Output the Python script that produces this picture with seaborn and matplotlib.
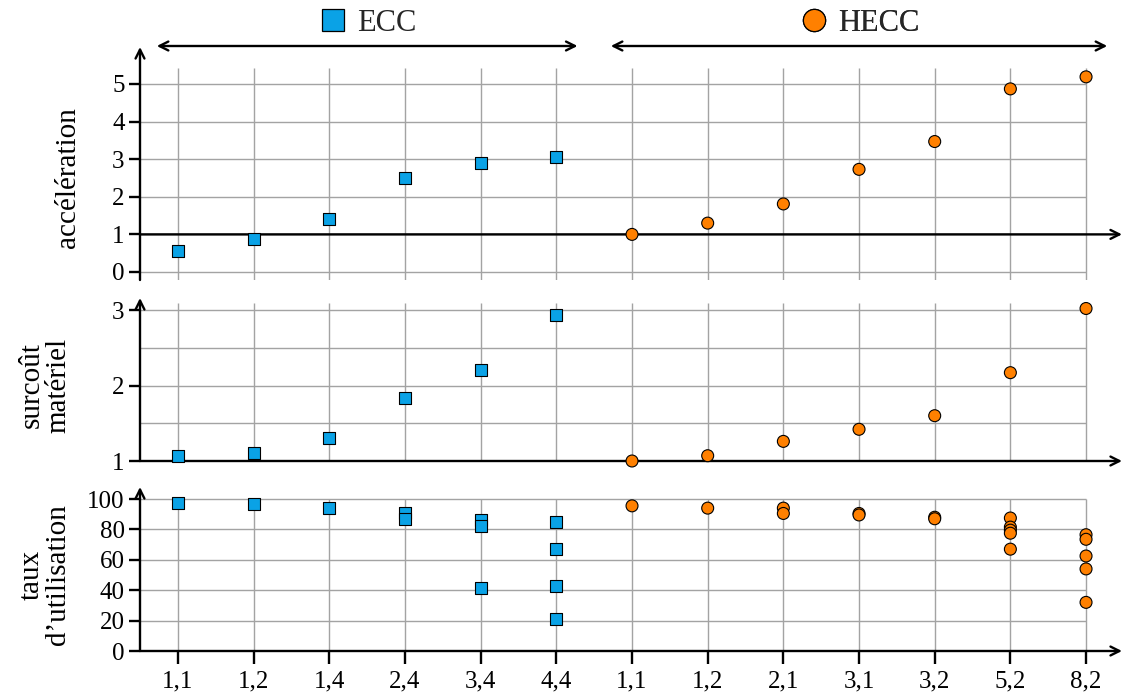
import numpy as np
import pandas as pd
import matplotlib
matplotlib.use("Agg")
import matplotlib.pyplot as plt
import matplotlib.transforms as mtransforms
from matplotlib.lines import Line2D
import seaborn as sns

# ---------------- data ----------------
ecc_configs = ["1,1", "1,2", "1,4", "2,4", "3,4", "4,4"]
hecc_configs = ["1,1", "1,2", "2,1", "3,1", "3,2", "5,2", "8,2"]

ecc_acceleration = [0.55, 0.87, 1.40, 2.51, 2.89, 3.06]
hecc_acceleration = [1.00, 1.30, 1.81, 2.73, 3.47, 4.87, 5.19]

ecc_surcout = [1.07, 1.11, 1.31, 1.83, 2.20, 2.94]
hecc_surcout = [1.00, 1.07, 1.26, 1.42, 1.60, 2.17, 3.02]

ecc_utilisation = [[97.5], [96.5], [94.0], [90.5, 87.0], [86.0, 82.5, 41.5],
                   [85.0, 67.0, 42.5, 21.0]]
hecc_utilisation = [[95.5], [94.0], [94.0, 90.5], [90.5, 89.5], [88.0, 87.0],
                    [87.5, 81.5, 79.5, 77.5, 67.0],
                    [76.5, 73.5, 62.5, 54.0, 32.0]]

acc_ticks = [0, 1, 2, 3, 4, 5]
sur_ticks = [1, 2, 3]
sur_minor = [1.5, 2.5]
uti_ticks = [0, 20, 40, 60, 80, 100]

families = ["ECC", "HECC"]
colors = {"ECC": "#0AA2E6", "HECC": "#FF8000"}
markers = {"ECC": "s", "HECC": "o"}

tick_labels = ecc_configs + hecc_configs
positions = list(range(len(tick_labels)))
n_ecc = len(ecc_configs)

rows = []
for i, v in enumerate(ecc_acceleration):
    rows.append(("acc", "ECC", i, v))
for j, v in enumerate(hecc_acceleration):
    rows.append(("acc", "HECC", n_ecc + j, v))
for i, v in enumerate(ecc_surcout):
    rows.append(("sur", "ECC", i, v))
for j, v in enumerate(hecc_surcout):
    rows.append(("sur", "HECC", n_ecc + j, v))
for i, vals in enumerate(ecc_utilisation):
    for v in vals:
        rows.append(("uti", "ECC", i, v))
for j, vals in enumerate(hecc_utilisation):
    for v in vals:
        rows.append(("uti", "HECC", n_ecc + j, v))
df = pd.DataFrame(rows, columns=["metric", "famille", "pos", "val"])

# ---------------- style ----------------
sns.set_theme(style="white")
plt.rcParams["font.family"] = ["Liberation Serif", "DejaVu Serif"]

W, H = 1125, 699
fig = plt.figure(figsize=(W / 100, H / 100), dpi=100)

def fx(px):
    return px / W

def fy(px):
    return 1 - px / H

left_px, right_px = 140, 1122
x0_px, dx_px = 178, 75.67
xlim = ((left_px - x0_px) / dx_px, (right_px - x0_px) / dx_px)

panels = [
    # metric, top px, bottom px, ylim, ticks, minor, axis-y, grid top, label
    ("acc", 47, 280, (-0.213, 5.984), acc_ticks, [], 1, 5.43, "accélération"),
    ("sur", 298, 461, (1.0, 3.159), sur_ticks, sur_minor, 1, 3.09, "surcoût\nmatériel"),
    ("uti", 487, 651, (0.0, 107.9), uti_ticks, [], 0, 100, "taux\nd\u2019utilisation"),
]

grid_col = "#a3a3a3"
fs_tick = 18
fs_lab = 21

axes = []
for metric, top, bot, ylim, ticks, minor, yaxis_at, gtop, label in panels:
    ax = fig.add_axes([fx(left_px), fy(bot), fx(right_px - left_px), (bot - top) / H])
    axes.append(ax)
    ax.set_xlim(*xlim)
    ax.set_ylim(*ylim)
    for s in ax.spines.values():
        s.set_visible(False)
    ax.set_facecolor("none")

    # grid
    ax.hlines(ticks + minor, xlim[0], positions[-1], colors=grid_col, lw=1.0, zorder=1)
    ax.vlines(positions, ylim[0], gtop, colors=grid_col, lw=1.0, zorder=1)

    # axes arrows
    arrow = dict(arrowstyle="->", lw=1.7, color="black", shrinkA=0, shrinkB=0,
                 mutation_scale=16)
    ax.annotate("", xy=(xlim[0], ylim[1]), xytext=(xlim[0], ylim[0]),
                arrowprops=arrow, annotation_clip=False, zorder=3)
    ax.annotate("", xy=(xlim[1], yaxis_at), xytext=(xlim[0], yaxis_at),
                arrowprops=arrow, annotation_clip=False, zorder=3)

    sub = df[df.metric == metric]
    sns.scatterplot(data=sub, x="pos", y="val", hue="famille", style="famille",
                    hue_order=families, style_order=families,
                    palette=colors, markers=markers, s=74, edgecolor="black",
                    linewidth=0.8, legend=False, ax=ax, zorder=5, clip_on=False)

    ax.set_yticks(ticks)
    ax.set_yticklabels([str(t) for t in ticks])
    ax.tick_params(axis="y", direction="out", length=8, width=1.7, color="black",
                   pad=3, labelsize=fs_tick, left=True, labelcolor="black")
    ax.set_xlabel("")
    ax.set_ylabel("")

    trans = mtransforms.blended_transform_factory(fig.transFigure, ax.transData)
    mid = (ticks[0] + ticks[-1]) / 2
    xl = fx(68) if "\n" not in label else fx(45)
    ax.text(xl, mid, label, transform=trans, rotation=90, ha="center", va="center",
            multialignment="center", fontsize=fs_lab, linespacing=1.05, color="black")

for ax in axes[:2]:
    ax.set_xticks(positions)
    ax.tick_params(axis="x", bottom=False, labelbottom=False)

ax3 = axes[2]
ax3.set_xticks(positions)
ax3.set_xticklabels(tick_labels)
ax3.tick_params(axis="x", direction="out", length=9, width=1.7, color="black",
                pad=5, labelsize=fs_tick, bottom=True, labelcolor="black")

# top group arrows and legends
ax1 = axes[0]
blend = mtransforms.blended_transform_factory(ax1.transData, ax1.transAxes)
y_arrow = (280 - 46) / (280 - 47)
y_leg = (280 - 23) / (280 - 47)
pad = 0.28
groups = [("ECC", 0, n_ecc - 1), ("HECC", n_ecc, positions[-1])]
for fam, a, b in groups:
    ax1.annotate("", xy=(b + pad, y_arrow), xytext=(a - pad, y_arrow),
                 xycoords=blend, textcoords=blend,
                 arrowprops=dict(arrowstyle="<->", lw=1.7, color="black",
                                 shrinkA=0, shrinkB=0, mutation_scale=16),
                 annotation_clip=False)
    handle = Line2D([], [], marker=markers[fam], linestyle="none", markersize=16,
                    markerfacecolor=colors[fam], markeredgecolor="black",
                    markeredgewidth=0.9)
    leg = ax1.legend(handles=[handle], labels=[fam], loc="center",
                     bbox_to_anchor=((a + b) / 2, y_leg), bbox_transform=blend,
                     frameon=False, handletextpad=0.3, handlelength=1.0,
                     borderaxespad=0, borderpad=0, fontsize=22)
    ax1.add_artist(leg)

fig.savefig("out.png", dpi=100)
